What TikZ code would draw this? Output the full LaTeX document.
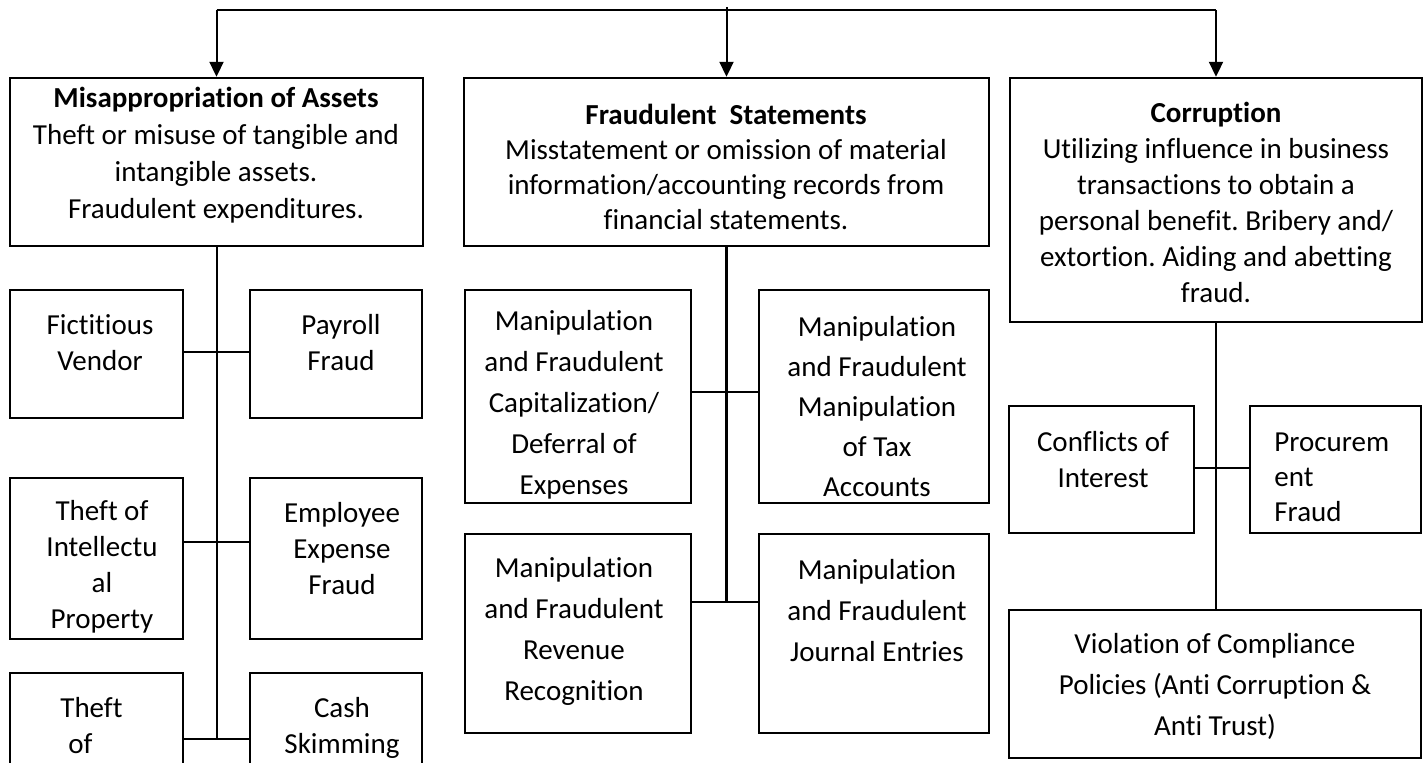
\documentclass[tikz,border=0pt]{standalone}
\usepackage{fontspec}
\setmainfont{Carlito}[Ligatures=NoCommon]
\usetikzlibrary{fit,arrows.meta}
\frenchspacing
\begin{document}
\begin{tikzpicture}[x=0.5pt,y=-0.5pt,
  box/.style={draw, line width=1.2pt, inner sep=0pt},
  txt/.style={align=center, inner sep=0pt, font={\fontsize{14.5pt}{#1}\selectfont}},
  txt/.default=18pt,
  link/.style={line width=1pt},
  stem/.style={line width=1.2pt},
  arr/.style={line width=1pt,-{Triangle[width=7pt,length=7.5pt]}}]
\useasboundingbox (0,0) rectangle (1424,763);
\clip (0,0) rectangle (1424,763);
\fill[white] (0,0) rectangle (1424,763);

% main boxes
\node[box, fit={(10,78)(423,246)}] (ma) {};
\node[box, fit={(464,78)(989,246)}] (fs) {};
\node[box, fit={(1010,78)(1422,322)}] (co) {};

% misappropriation sub boxes
\node[box, fit={(10,290)(183,418)}] (fv) {};
\node[box, fit={(250,290)(422,418)}] (pf) {};
\node[box, fit={(10,478)(183,639)}] (tip) {};
\node[box, fit={(250,478)(422,639)}] (eef) {};
\node[box, fit={(10,673)(183,790)}] (tof) {};
\node[box, fit={(250,673)(422,790)}] (cs) {};

% fraudulent statements sub boxes
\node[box, fit={(465,290)(691,503)}] (cap) {};
\node[box, fit={(759,290)(989,503)}] (tax) {};
\node[box, fit={(465,534)(691,733)}] (rev) {};
\node[box, fit={(759,534)(989,733)}] (je) {};

% corruption sub boxes
\node[box, fit={(1009,406)(1194,533)}] (coi) {};
\node[box, fit={(1250,406)(1421,533)}] (proc) {};
\node[box, fit={(1009,610)(1421,758)}] (vio) {};

% texts
\node[txt=18.5pt] (ma-t) at (216,155) {\textbf{Misappropriation of Assets}\\Theft or misuse of tangible and\\intangible assets.\\Fraudulent expenditures.};
\node[txt=17.5pt] (fs-t) at (726,167) {\textbf{Fraudulent\ \ Statements}\\Misstatement or omission of material\\information/accounting records from\\financial statements.};
\node[txt=18pt] (co-t) at (1216,202) {\textbf{Corruption}\\Utilizing influence in business\\transactions to obtain a\\personal benefit. Bribery and/\\extortion. Aiding and abetting\\fraud.};

\node[txt] (fv-t) at (100,343) {Fictitious\\Vendor};
\node[txt] (pf-t) at (341,343) {Payroll\\Fraud};
\node[txt] (tip-t) at (102,567) {Theft of\\Intellectu\\al\\Property};
\node[txt] (eef-t) at (342,549) {Employee\\Expense\\Fraud};
\node[txt, align=left, anchor=west] (tof-t) at (60,725.5) {Theft\\\hspace*{4pt}of};
\node[txt] (cs-t) at (342,727.5) {Cash\\Skimming};

\node[txt=20.5pt] (cap-t) at (574,405) {Manipulation\\and Fraudulent\\Capitalization/\\Deferral of\\Expenses};
\node[txt=20pt] (tax-t) at (877,407) {Manipulation\\and Fraudulent\\Manipulation\\of Tax\\Accounts};
\node[txt=20.5pt] (rev-t) at (574,631) {Manipulation\\and Fraudulent\\Revenue\\Recognition};
\node[txt=20.5pt] (je-t) at (877,611) {Manipulation\\and Fraudulent\\Journal Entries};

\node[txt] (coi-t) at (1103,460) {Conflicts of\\Interest};
\node[txt=17.5pt, align=left, anchor=west] (proc-t) at (1274,477) {Procurem\\ent\\Fraud};
\node[txt=20.5pt] (vio-t) at (1215,686) {Violation of Compliance\\Policies (Anti Corruption \&\\Anti Trust)};

% top distribution line and arrows
\coordinate (topy) at (0,10);
\coordinate (ticky) at (0,7);
\draw[link] (ma.north |- topy) -- (co.north |- topy);
\draw[arr] (ma.north |- topy) -- (ma.north);
\draw[arr] (fs.north |- ticky) -- (fs.north);
\draw[arr] (co.north |- topy) -- (co.north);

% misappropriation tree
\coordinate (j1) at (216.5,352);
\coordinate (j2) at (216.5,542);
\coordinate (j3) at (216.5,739);
\draw[link] (ma.south) -- (j3);
\draw[link] (fv.east |- j1) -- (pf.west |- j1);
\draw[link] (tip.east |- j2) -- (eef.west |- j2);
\draw[link] (tof.east |- j3) -- (cs.west |- j3);

% fraudulent statements tree
\coordinate (k1) at (726.5,392);
\coordinate (k2) at (726.5,602);
\draw[stem] (fs.south) -- (k2);
\draw[link] (cap.east |- k1) -- (tax.west |- k1);
\draw[link] (rev.east |- k2) -- (je.west |- k2);

% corruption tree
\coordinate (m1) at (1216,468);
\draw[link] (co.south) -- (co.south |- vio.north);
\draw[link] (coi.east |- m1) -- (proc.west |- m1);
\end{tikzpicture}
\end{document}
